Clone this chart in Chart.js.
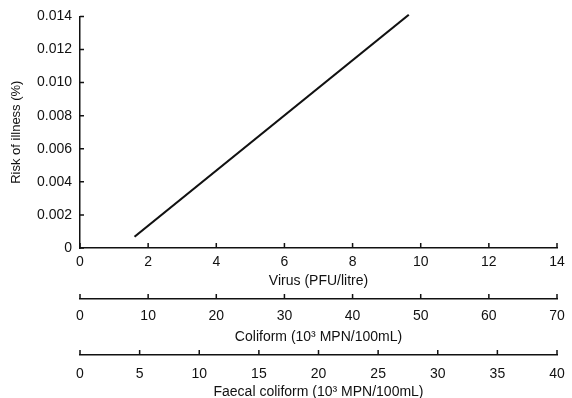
<!DOCTYPE html>
<html>
<head>
<meta charset="utf-8">
<script src="https://cdn.jsdelivr.net/npm/chart.js@4"></script>
<style>
html,body{margin:0;padding:0;background:#fff;}
#wrap{width:572px;height:398px;}
</style>
</head>
<body>
<div id="wrap"><canvas id="c" width="572" height="398"></canvas></div>
<script>
// Data
const virusX = [1.6, 9.65];
const riskY = [0.00068, 0.0141];
const yTicks = [0, 0.002, 0.004, 0.006, 0.008, 0.010, 0.012, 0.014];
const virusTicks = [0, 2, 4, 6, 8, 10, 12, 14];
const coliformTicks = [0, 10, 20, 30, 40, 50, 60, 70];
const faecalTicks = [0, 5, 10, 15, 20, 25, 30, 35, 40];
const yTitle = 'Risk of illness (%)';
const virusTitle = 'Virus (PFU/litre)';
const coliformTitle = 'Coliform (10³ MPN/100mL)';
const faecalTitle = 'Faecal coliform (10³ MPN/100mL)';

const FONT = '"Liberation Sans", Arial, sans-serif';
const INK = '#111';

const inwardTicks = {
  id: 'inwardTicks',
  afterDraw(chart) {
    const ctx = chart.ctx;
    ctx.save();
    ctx.strokeStyle = INK;
    ctx.lineWidth = 1.5;
    Object.values(chart.scales).forEach(s => {
      ctx.beginPath();
      if (s.isHorizontal()) {
        s.ticks.forEach(t => {
          const p = s.getPixelForValue(t.value);
          ctx.moveTo(p, s.top);
          ctx.lineTo(p, s.top - 5);
        });
      } else {
        s.ticks.forEach(t => {
          const p = s.getPixelForValue(t.value);
          ctx.moveTo(s.right, p);
          ctx.lineTo(s.right + 4, p);
        });
      }
      ctx.stroke();
    });
    ctx.restore();
  }
};

function xAxis(min, max, ticks, title, weight, height, labelPad, titlePad) {
  return {
    type: 'linear',
    position: 'bottom',
    weight: weight,
    min: min, max: max,
    afterBuildTicks: s => { s.ticks = ticks.map(v => ({value: v})); },
    afterFit: s => { s.height = height; s.paddingLeft = 0; s.paddingRight = 0; },
    grid: {display: true, drawOnChartArea: false, drawTicks: false},
    border: {display: true, color: INK, width: 1.5},
    ticks: {color: INK, font: {family: FONT, size: 14}, padding: labelPad, maxRotation: 0, autoSkip: false,
            callback: v => String(v)},
    title: {display: true, text: title, color: INK, font: {family: FONT, size: 14}, padding: {top: 0, bottom: titlePad}}
  };
}

new Chart(document.getElementById('c'), {
  type: 'scatter',
  data: {
    datasets: [{
      data: virusX.map((x, i) => ({x: x, y: riskY[i]})),
      showLine: true,
      borderColor: INK,
      borderWidth: 2.2,
      pointRadius: 0,
      clip: false,
      xAxisID: 'x', yAxisID: 'y'
    }]
  },
  options: {
    responsive: false,
    animation: false,
    layout: {padding: {top: 13.6, right: 15, left: 0, bottom: 0}},
    plugins: {legend: {display: false}, tooltip: {enabled: false}},
    scales: {
      x: xAxis(0, 14, virusTicks, virusTitle, 0, 51, 6, 9),
      x2: xAxis(0, 70, coliformTicks, coliformTitle, 1, 56, 9, 9.5),
      x3: xAxis(0, 40, faecalTicks, faecalTitle, 2, 43, 11, -3),
      y: {
        type: 'linear',
        min: 0, max: 0.014,
        afterBuildTicks: s => { s.ticks = yTicks.map(v => ({value: v})); },
        afterFit: s => { s.width = 80; },
        grid: {display: true, drawOnChartArea: false, drawTicks: false},
        border: {display: true, color: INK, width: 1.5},
        ticks: {color: INK, font: {family: FONT, size: 14}, padding: 8,
                callback: v => v === 0 ? '0' : v.toFixed(3)},
        title: {display: true, text: yTitle, color: INK, font: {family: FONT, size: 13}, padding: {top: 9, bottom: 0}}
      }
    }
  },
  plugins: [inwardTicks]
});
</script>
</body>
</html>
